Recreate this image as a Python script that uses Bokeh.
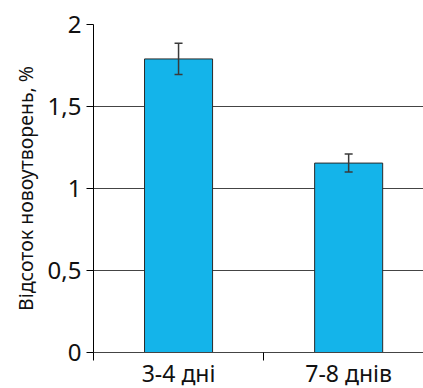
from bokeh.plotting import figure
from bokeh.models import ColumnDataSource, Range1d, FixedTicker, Whisker, TeeHead
from bokeh.embed import file_html
from bokeh.resources import INLINE

categories = ["3-4 дні", "7-8 днів"]
values = [1.79, 1.155]
errors = [0.095, 0.055]
y_ticks = [0, 0.5, 1, 1.5, 2]
y_tick_labels = ["0", "0,5", "1", "1,5", "2"]
y_label = "Відсоток новоутворень, %"

xs = [i + 0.5 for i in range(len(categories))]
src = ColumnDataSource(dict(
    x=xs, top=values,
    upper=[v + e for v, e in zip(values, errors)],
    lower=[v - e for v, e in zip(values, errors)],
))

FONT = "Noto Sans"
p = figure(frame_width=330, frame_height=328, output_backend="svg", toolbar_location=None,
           x_range=Range1d(0, 1.94), y_range=Range1d(0, 2),
           min_border_left=93, min_border_right=0, min_border_top=24, min_border_bottom=0)
p.outline_line_color = None
p.background_fill_color = "white"
p.border_fill_color = "white"

p.vbar(x="x", top="top", bottom=0, width=0.4, source=src,
       fill_color="#14B4EA", line_color="#2a2a2a", line_width=1)

w = Whisker(base="x", upper="upper", lower="lower", source=src, level="overlay",
            line_color="#3a3a3a", line_width=1.5,
            upper_head=TeeHead(size=8, line_color="#3a3a3a", line_width=1.5),
            lower_head=TeeHead(size=8, line_color="#3a3a3a", line_width=1.5))
p.add_layout(w)

p.xgrid.visible = False
p.ygrid.ticker = FixedTicker(ticks=y_ticks)
p.ygrid.grid_line_color = "#444444"
p.ygrid.grid_line_width = 1

p.yaxis.ticker = FixedTicker(ticks=y_ticks)
p.yaxis.major_label_overrides = {t: l for t, l in zip(y_ticks, y_tick_labels)}
p.yaxis.major_label_text_font = FONT
p.yaxis.major_label_text_font_size = "24px"
p.yaxis.major_label_text_color = "#111111"
p.yaxis.major_tick_in = 0
p.yaxis.major_tick_out = 7
p.yaxis.minor_tick_line_color = None
p.yaxis.axis_line_color = "black"
p.yaxis.major_tick_line_color = "black"
p.yaxis.axis_label = y_label
p.yaxis.axis_label_text_font = FONT
p.yaxis.axis_label_text_font_size = "19.5px"
p.yaxis.axis_label_text_font_style = "normal"
p.yaxis.axis_label_text_color = "#111111"
p.yaxis.axis_label_standoff = 6
p.yaxis.major_label_standoff = 5

p.xaxis.ticker = FixedTicker(ticks=xs, minor_ticks=[0, 1, 2])
p.xaxis.major_label_overrides = {x: c for x, c in zip(xs, categories)}
p.xaxis.major_label_text_font = FONT
p.xaxis.major_label_text_font_size = "23px"
p.xaxis.major_label_text_color = "#111111"
p.xaxis.major_tick_line_color = None
p.xaxis.major_tick_out = 0
p.xaxis.major_tick_in = 0
p.xaxis.minor_tick_line_color = "black"
p.xaxis.minor_tick_in = 0
p.xaxis.minor_tick_out = 8
p.xaxis.axis_line_color = "#444444"
p.xaxis.major_label_standoff = -4

open("out.html", "w").write(file_html(p, INLINE))
